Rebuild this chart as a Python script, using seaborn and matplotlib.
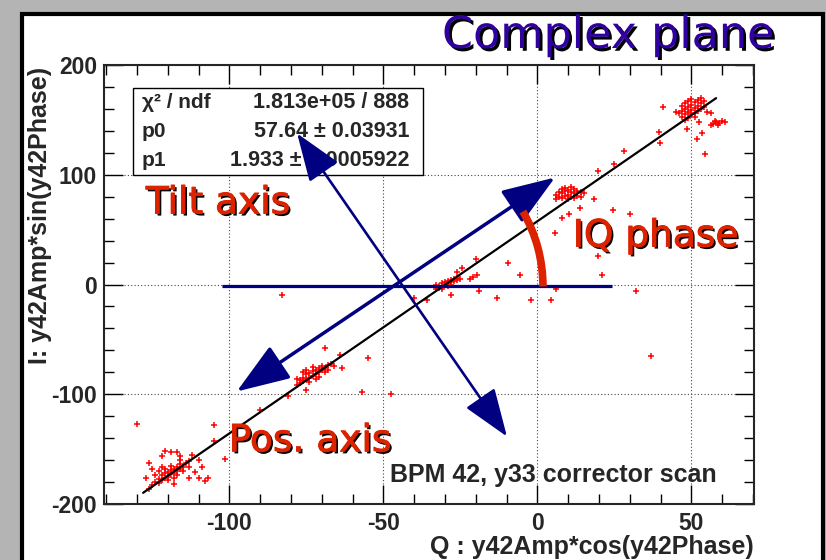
import pandas as pd
import matplotlib
matplotlib.use("Agg")
import matplotlib.pyplot as plt
import matplotlib.patheffects as pe
import matplotlib.transforms as mtransforms
from matplotlib.patches import Rectangle, Arc
from matplotlib.ticker import MultipleLocator
import seaborn as sns

# --- data (Q, I) ---
cluster_a = [(-125, -183), (-124, -180), (-123, -181), (-123, -177), (-122, -178), (-122, -174),
             (-121, -176), (-121, -172), (-120, -175), (-120, -171), (-119, -173), (-119, -169),
             (-118, -172), (-118, -168), (-117, -170), (-117, -166), (-116, -168), (-116, -164),
             (-115, -166), (-114, -163), (-113, -161), (-120, -178), (-118, -176), (-121, -168),
             (-119, -165), (-117, -174), (-124, -174), (-123, -170), (-115, -170), (-113, -166),
             (-122, -166), (-116, -160), (-126, -163), (-125, -168), (-127, -176), (-122, -156),
             (-121, -152), (-119, -153), (-117, -153), (-116, -156), (-112, -155), (-110, -160),
             (-109, -166), (-111, -171), (-110, -176), (-108, -179), (-113, -176), (-126, -186),
             (-118, -182)]
outliers_a = [(-130, -127), (-105, -128), (-105, -143), (-101.5, -159), (-107, -176), (-90, -114)]

cluster_b = [(-78, -92), (-77, -90), (-77, -87), (-76, -88), (-76, -85), (-75, -86), (-75, -82),
             (-74, -85), (-74, -81), (-73, -83), (-73, -79), (-72, -82), (-72, -78), (-71, -80),
             (-71, -76), (-70, -78), (-70, -74), (-69, -76), (-68, -73), (-67, -72), (-74, -89),
             (-72, -86), (-76, -80), (-75, -78), (-69, -80), (-73, -75), (-71, -84), (-78, -86),
             (-66, -74), (-68, -78)]
outliers_b = [(-69, -58), (-64, -64), (-63.5, -76), (-57, -98), (-81, -102), (-75, -96),
              (-55, -67), (-47.5, -100)]

cluster_c = [(-33, -4), (-32, -3), (-32, -1), (-31, -2), (-31, 1), (-30, 0), (-30, 2), (-29, 1),
             (-29, 3), (-28, 2), (-28, 4), (-27, 3), (-27, 5), (-26, 4), (-26, 6), (-31, -4),
             (-29, -1), (-28, 0), (-33, 0), (-25, 5)]
outliers_c = [(-24.5, 15), (-26, 11), (-21, 7), (-19.5, 9), (-22, 5), (-20, 23), (-28, -10),
              (-40, -12), (-36, -14), (-19, -6), (-13, -12), (-83, -10)]

cluster_d = [(6, 78), (7, 80), (7, 84), (8, 79), (8, 83), (9, 81), (9, 85), (10, 82), (10, 86),
             (11, 80), (11, 84), (12, 83), (12, 87), (13, 81), (13, 85), (14, 84), (8, 87),
             (10, 78), (12, 79), (6, 82), (9, 88), (11, 89), (14, 80), (15, 83)]
outliers_d = [(19.6, 103), (18.3, 77.5), (13.8, 70), (7.9, 61), (10.2, 64), (5.7, 46.5),
              (-2, -13.7), (4.4, -13.7), (6, -4.5), (-5.7, 9), (-9.6, 20), (19.6, 26), (21, 9),
              (32, -6), (24.5, 67.5), (30, 64), (37, -65), (25, 110), (28, 122)]

cluster_e = [(47, 153), (47, 158), (48, 155), (48, 160), (48, 165), (49, 157), (49, 162),
             (49, 167), (50, 159), (50, 164), (50, 169), (51, 156), (51, 161), (51, 166),
             (52, 158), (52, 163), (52, 168), (53, 160), (53, 165), (54, 162), (49, 152),
             (51, 153), (46, 156), (53, 170), (50, 155), (48, 150), (54, 167), (47, 163)]
outliers_e = [(40.8, 162), (45, 157), (39.4, 139), (39.8, 128.5), (48.5, 142), (52.4, 148.5),
              (53.4, 138), (51.8, 133), (54.4, 118.5), (55, 157.6), (56.3, 156.7), (57, 146),
              (58, 148), (59, 147), (60, 149), (58.5, 145), (57.5, 149), (56.5, 145), (61, 148)]

# fitted straight line (end points as drawn)
fit_q = [-128, 58]
fit_i = [-189.8, 169.8]

stats_rows = [("χ² / ndf", "1.813e+05 / 888"),
              ("p0", "57.64 ± 0.03931"),
              ("p1", "1.933 ± 0.0005922")]

pts = pd.DataFrame(cluster_a + outliers_a + cluster_b + outliers_b + cluster_c + outliers_c
                   + cluster_d + outliers_d + cluster_e + outliers_e, columns=["Q", "I"])

# --- figure ---
sns.set_style("ticks")
plt.rcParams['font.family'] = ['Liberation Sans', 'DejaVu Sans']
plt.rcParams['font.weight'] = 'bold'
plt.rcParams['axes.unicode_minus'] = False

W, H = 826, 560
fig = plt.figure(figsize=(W / 100, H / 100), dpi=100, facecolor="#b4b4b4")

# slide frame
fig.patches.append(Rectangle((22 / W, -0.05), (823 - 22) / W, 1.05 - 14 / H,
                             transform=fig.transFigure, facecolor="white",
                             edgecolor="black", lw=3, zorder=-10))

ax = fig.add_axes([104 / W, 1 - 504 / H, 650 / W, 439 / H])
ax.set_facecolor("white")

sns.scatterplot(data=pts, x="Q", y="I", marker="+", color="#ff0000", s=16,
                linewidth=1.1, ax=ax, zorder=3, legend=False)
sns.lineplot(x=fit_q, y=fit_i, color="black", lw=1.6, ax=ax, zorder=4)

ax.set_xlim(-140.7, 70.3)
ax.set_ylim(-200, 200)
ax.xaxis.set_major_locator(MultipleLocator(50))
ax.xaxis.set_minor_locator(MultipleLocator(10))
ax.yaxis.set_major_locator(MultipleLocator(100))
ax.yaxis.set_minor_locator(MultipleLocator(20))
ax.tick_params(which="both", direction="in", top=True, right=True, width=1, color="black")
ax.tick_params(which="major", length=14, labelsize=16.5, pad=5)
ax.tick_params(which="minor", length=7)
ax.tick_params(axis="x", which="major", pad=6)
for lab in ax.get_xticklabels() + ax.get_yticklabels():
    lab.set_fontweight("bold")
ax.grid(True, which="major", color="#444444", linestyle=(0, (1, 2)), lw=0.8)
for s in ax.spines.values():
    s.set_linewidth(1.5)
ax.set_xlabel("")
ax.set_ylabel("")

fig.text(40 / W, 1 - 67 / H, "I: y42Amp*sin(y42Phase)", rotation=90, ha="center", va="top",
         fontsize=18, fontweight="bold")
fig.text(754 / W, 1 - 547 / H, "Q : y42Amp*cos(y42Phase)", ha="right", va="center",
         fontsize=18, fontweight="bold")

# stats box
x0, x1 = (133 - 104) / 650, (423 - 104) / 650
y0, y1 = (504 - 175) / 439, (504 - 88) / 439
ax.add_patch(Rectangle((x0, y0), x1 - x0, y1 - y0, transform=ax.transAxes,
                       facecolor="white", edgecolor="black", lw=1.0, zorder=5))
for k, (name, val) in enumerate(stats_rows):
    yy = (504 - (103 + 28.5 * k)) / 439
    ax.text((142 - 104) / 650, yy, name, transform=ax.transAxes, ha="left", va="center",
            fontsize=15, fontweight="bold", zorder=6)
    ax.text((409 - 104) / 650, yy, val, transform=ax.transAxes, ha="right", va="center",
            fontsize=15.5, fontweight="bold", zorder=6)

ax.text(-47.9, -180.4, "BPM 42, y33 corrector scan", ha="left", va="baseline",
        fontsize=18, fontweight="bold", zorder=6)

# annotations
navy = "#000080"
red = "#dd2200"
ax.hlines(-1.5, -102.4, 24.2, color=navy, lw=2.3, zorder=6)
ax.annotate("", xy=(5.7, 97.5), xytext=(-97.6, -97.5),
            arrowprops=dict(arrowstyle="<|-|>,head_length=33,head_width=12",
                            mutation_scale=1, color=navy, lw=2.5,
                            shrinkA=0, shrinkB=0), zorder=7)
ax.annotate("", xy=(-9.9, -138.5), xytext=(-78, 137.6),
            arrowprops=dict(arrowstyle="<|-|>,head_length=30,head_width=11",
                            mutation_scale=1, color=navy, lw=1.9,
                            shrinkA=0, shrinkB=0), zorder=7)

arc_trans = fig.dpi_scale_trans + mtransforms.ScaledTranslation(-46.9, -1.8, ax.transData)
ax.add_patch(Arc((0, 0), 3.0, 3.0, theta1=0, theta2=30, transform=arc_trans,
                 color=red, lw=5.5, capstyle="butt", zorder=7))

# red labels with a dark drop shadow, slightly heavier strokes like the slide font
shadow = [pe.SimplePatchShadow(offset=(1.5, -1.5), shadow_rgbFace="black", alpha=1.0),
          pe.Stroke(linewidth=0.7, foreground=red), pe.Normal()]
for txt, q, i in [("Tilt axis", -127.1, 64.7), ("IQ phase", 11.5, 34.6), ("Pos. axis", -100.2, -152)]:
    ax.text(q, i, txt, ha="left", va="baseline", fontsize=27, color=red,
            family="DejaVu Sans", fontweight="normal", path_effects=shadow, zorder=8)

fig.text(442 / W, 1 - 48 / H, "Complex plane", ha="left", va="baseline", fontsize=32,
         color="#3000a0", family="DejaVu Sans", fontweight="normal",
         path_effects=[pe.withSimplePatchShadow(offset=(2, -2), shadow_rgbFace="black", alpha=1.0)])

fig.savefig("out.png", dpi=100, facecolor=fig.get_facecolor())
